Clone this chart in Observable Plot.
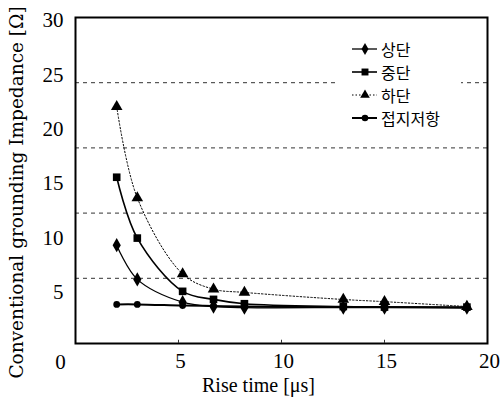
<!DOCTYPE html>
<html><head><meta charset="utf-8">
<script src="https://cdn.jsdelivr.net/npm/d3@7"></script>
<script src="https://cdn.jsdelivr.net/npm/@observablehq/plot@0.6"></script>
<style>
body{margin:0;background:#fff;}
#wrap{position:relative;width:501px;height:402px;overflow:hidden;}
#legend{position:absolute;left:337px;top:37px;width:124px;height:94px;background:#fff;}
#legend .row{position:absolute;left:14px;height:20px;display:flex;align-items:center;font-family:"Noto Sans CJK KR";font-size:16px;color:#000;}
#legend svg{margin-right:3px;}
</style></head><body><div id="wrap"></div>
<script>
const riseTime = [2, 3, 5.2, 6.7, 8.2, 13, 15, 19];
const upper  = [9.05, 5.9, 3.8, 3.4, 3.3, 3.3, 3.3, 3.3];
const middle = [15.3, 9.7, 4.8, 4.06, 3.66, 3.4, 3.35, 3.35];
const lower  = [21.8, 13.4, 6.4, 5.0, 4.7, 4.05, 3.85, 3.4];
const ground = [3.6, 3.6, 3.5, 3.45, 3.4, 3.35, 3.35, 3.3];
const seriesNames = ["상단", "중단", "하단", "접지저항"];
const yTicks = [5, 10, 15, 20, 25, 30];
const xTicks = [5, 10, 15, 20];
const gridValues = [6, 12, 18, 24];
const cornerLabel = [0];
const xLabel = "Rise time [μs]";
const yLabel = "Conventional grounding Impedance [Ω]";

const valuesBySeries = [upper, middle, lower, ground];
const styles = [
  {symbol: "diamond", r: 4.3, sw: 1.3, dash: null},
  {symbol: "square", r: 4.3, sw: 1.6, dash: null},
  {symbol: "triangle", r: 4.3, sw: 1, dash: "1.5,2"},
  {symbol: "circle", r: 3.4, sw: 2, dash: null}
];
const data = seriesNames.flatMap((s, i) => riseTime.map((t, j) => ({series: s, idx: i, x: t, y: valuesBySeries[i][j]})));

const marks = [
  Plot.ruleY(gridValues, {stroke: "#333", strokeWidth: 1, strokeDasharray: "4,4"})
];
seriesNames.forEach((s, i) => {
  const d = data.filter(e => e.series === s);
  const st = styles[i];
  marks.push(Plot.line(d, {x: "x", y: "y", curve: "catmull-rom", stroke: "black", strokeWidth: st.sw, strokeDasharray: st.dash}));
  marks.push(Plot.dot(d, {x: "x", y: "y", symbol: () => st.symbol, fill: "black", stroke: "none", r: st.r}));
});
marks.push(
  Plot.frame({stroke: "black", strokeWidth: 2}),
  Plot.axisY(yTicks, {tickSize: 0, tickPadding: 12, fontSize: 21, dy: 3, label: null, fontFamily: "Liberation Serif"}),
  Plot.axisX(xTicks, {tickSize: 0, tickPadding: 10, fontSize: 21, dx: 2, label: null, fontFamily: "Liberation Serif"}),
  Plot.ruleX(xTicks.slice(0, 3), {y1: 0, y2: 0.3, stroke: "#333", strokeWidth: 1}),
  Plot.text(cornerLabel, {x: d => d, y: d => d, text: d => String(d), dx: -15, dy: 19, fontSize: 21, fontFamily: "Liberation Serif"}),
  Plot.text([xLabel], {frameAnchor: "bottom", lineAnchor: "middle", textAnchor: "middle", dx: -23, dy: 42, fontSize: 20, fontFamily: "Liberation Serif"}),
  Plot.text([yLabel], {frameAnchor: "left", rotate: -90, textAnchor: "middle", lineAnchor: "middle", dx: -58, dy: 12, fontSize: 18.5, fontFamily: "DejaVu Serif"})
);

const chart = Plot.plot({
  width: 501, height: 402,
  marginLeft: 75, marginRight: 14, marginTop: 17, marginBottom: 59,
  x: {domain: [0, 20]},
  y: {domain: [0, 30]},
  style: {background: "#fff", color: "#000", fontFamily: "Liberation Serif", overflow: "visible"},
  marks
});
const wrap = document.getElementById("wrap");
wrap.appendChild(chart);

// legend
const legend = document.createElement("div");
legend.id = "legend";
const symbolPath = {
  diamond: d3.symbol(d3.symbolDiamond, 42)(),
  square: d3.symbol(d3.symbolSquare, 48)(),
  triangle: d3.symbol(d3.symbolTriangle, 40)(),
  circle: d3.symbol(d3.symbolCircle, 34)()
};
seriesNames.forEach((s, i) => {
  const st = styles[i];
  const row = document.createElement("div");
  row.className = "row";
  row.style.top = (2 + i * 23) + "px";
  row.innerHTML = `<svg width="27" height="20"><line x1="1" x2="26" y1="10" y2="10" stroke="black" stroke-width="${st.sw}" ${st.dash ? `stroke-dasharray="${st.dash}"` : ""}/><path transform="translate(14,10)" d="${symbolPath[st.symbol]}" fill="black"/></svg><span>${s}</span>`;
  legend.appendChild(row);
});
wrap.appendChild(legend);
</script></body></html>
